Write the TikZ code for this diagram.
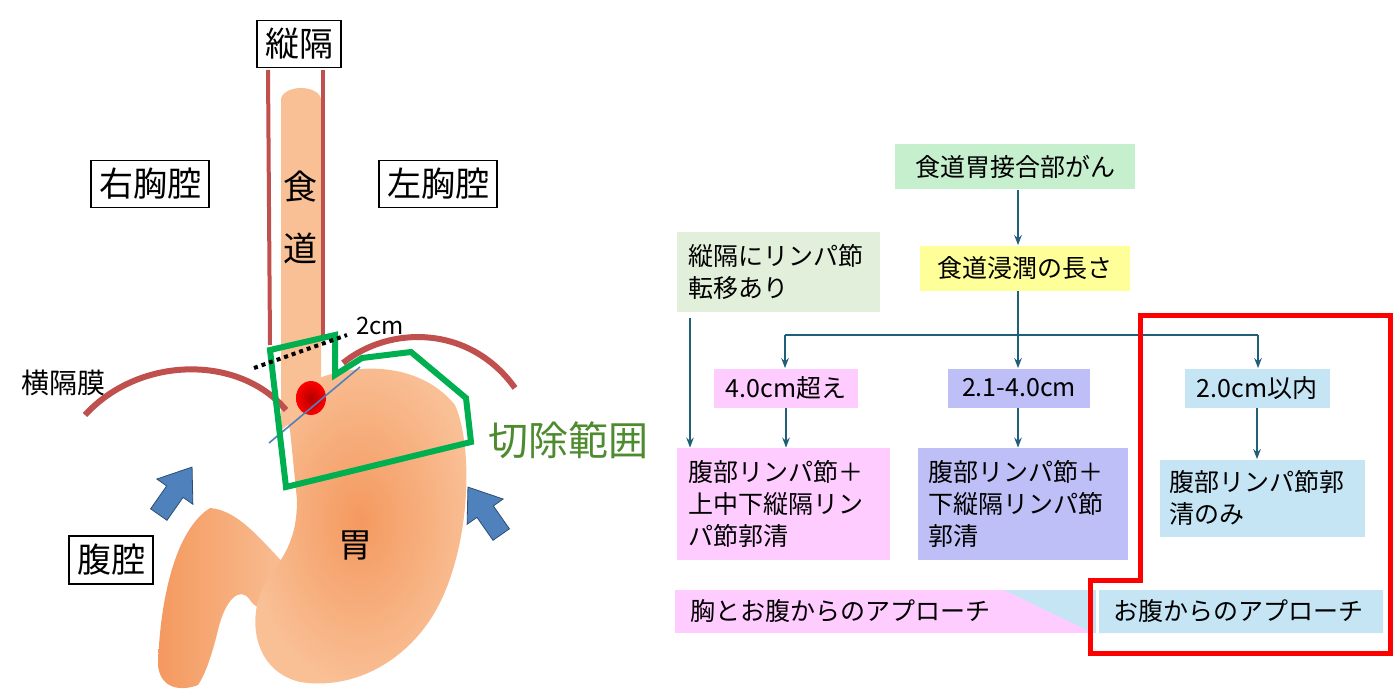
\documentclass[tikz,border=0pt]{standalone}
\usepackage{fontspec}
\setmainfont{Noto Sans CJK JP}
\usetikzlibrary{arrows.meta}
\definecolor{dred}{HTML}{C0504D}
\definecolor{gbox}{HTML}{C6EFCE}
\definecolor{ybox}{HTML}{FFFF99}
\definecolor{lgbox}{HTML}{E2EFDA}
\definecolor{pbox}{HTML}{FFCCFF}
\definecolor{vbox}{HTML}{BFBFF7}
\definecolor{bbox}{HTML}{C5E5F4}
\definecolor{arr}{HTML}{1F5F7A}
\definecolor{grn}{HTML}{00B050}
\definecolor{gtxt}{HTML}{4E8A2E}
\definecolor{org}{HTML}{F9C096}
\definecolor{org2}{HTML}{F4995F}
\definecolor{barrow}{HTML}{4F81BD}
\tikzset{
 lab/.style={draw,thick,fill=white,inner sep=4pt,font=\fontsize{17}{20}\selectfont},
 fb/.style={font=\fontsize{12.5}{16}\selectfont,inner sep=0pt},
 fa/.style={-{Stealth[length=5pt]},arr,thick},
 barr/.style={fill=barrow,draw=barrow!60!black},
}
\begin{document}
\begin{tikzpicture}[x=0.5pt,y=-0.5pt]
\useasboundingbox (0,0) rectangle (1400,695);
% duodenum
\shade[left color=org2,right color=org] (158,665) .. controls (160,600) and (175,530) .. (210,508) .. controls (240,510) and (265,545) .. (295,575) .. controls (275,610) and (260,615) .. (250,600) .. controls (240,585) and (225,600) .. (218,630) .. controls (212,655) and (205,675) .. (198,685) .. controls (180,692) and (160,688) .. cycle;
% stomach
\shade[inner color=org2,outer color=org] (281,400) .. controls (320,365) and (410,350) .. (455,405) .. controls (475,450) and (470,560) .. (430,620) .. controls (400,665) and (350,690) .. (300,682) .. controls (250,670) and (245,610) .. (270,575) .. controls (290,550) and (297,530) .. (297,500) -- (290,430) -- cycle;
\fill[org] (281,430) -- (281,100) arc[start angle=180,end angle=360,x radius=20,y radius=12] -- (321,400) -- cycle;
% mediastinum lines
\draw[dred,line width=2pt] (268,70) -- (270,345);
\draw[dred,line width=2pt] (323,70) -- (323,335);
% diaphragm
\draw[dred,line width=3pt] (85,415) .. controls (140,355) and (240,355) .. (286,410);
\draw[dred,line width=3pt] (343,363) .. controls (390,325) and (470,325) .. (515,388);
% tumor
\shade[inner color=red!70!black,outer color=red] (311,398) ellipse[x radius=15,y radius=17];
\draw[barrow,thick] (269,443) -- (360,367);
\draw[grn,line width=3pt] (270,350) -- (335,335) -- (335,375) -- (362,358) -- (411,352) -- (466,398) -- (471,442) -- (286,487) -- cycle;
\draw[line width=2pt,dotted] (254,368) -- (347,335);
\node[font=\fontsize{12}{14}\selectfont] (cm) at (380,326) {2cm};
% blue arrows
\begin{scope}[shift={(176,490)},rotate=-35]
\path[barr] (-10,30) -- (-10,2) -- (-22,2) -- (0,-28) -- (22,2) -- (10,2) -- (10,30) -- cycle;
\end{scope}
\begin{scope}[shift={(484,510)},rotate=35]
\path[barr] (-10,30) -- (-10,2) -- (-22,2) -- (0,-28) -- (22,2) -- (10,2) -- (10,30) -- cycle;
\end{scope}
% labels
\node[lab] (med) at (299,44) {縦隔};
\node[lab] (rt) at (150,184) {右胸腔};
\node[lab] (lt) at (438,184) {左胸腔};
\node[lab] (abd) at (111,560) {腹腔};
\node[font=\fontsize{14}{16}\selectfont] (dia) at (63,383) {横隔膜};
\node[font=\fontsize{17}{20}\selectfont] (eso1) at (300,187) {食};
\node[font=\fontsize{17}{20}\selectfont] (eso2) at (300,248) {道};
\node[font=\fontsize{17}{20}\selectfont] (st) at (355,545) {胃};
\node[font=\fontsize{20}{24}\selectfont,text=gtxt] (cut) at (568,440) {切除範囲};
% flowchart
\node[fb,fill=gbox,minimum width=240*0.5pt,minimum height=45*0.5pt] (a) at (1015,167) {食道胃接合部がん};
\node[fb,fill=ybox,minimum width=210*0.5pt,minimum height=45*0.5pt] (b) at (1025,268) {食道浸潤の長さ};
\node[fb,fill=lgbox,minimum width=203*0.5pt,minimum height=80*0.5pt,align=left,text width=180*0.5pt] (c) at (778,272) {縦隔にリンパ節\\転移あり};
\node[fb,fill=pbox,minimum width=144*0.5pt,minimum height=39*0.5pt] (p1) at (786,388) {4.0cm超え};
\node[fb,fill=vbox,minimum width=142*0.5pt,minimum height=39*0.5pt] (v1) at (1019,388) {2.1-4.0cm};
\node[fb,fill=bbox,minimum width=145*0.5pt,minimum height=39*0.5pt] (b1) at (1257,388) {2.0cm以内};
\node[fb,fill=pbox,minimum width=213*0.5pt,minimum height=112*0.5pt,align=left,text width=190*0.5pt] (p2) at (783,504) {腹部リンパ節＋\\上中下縦隔リン\\パ節郭清};
\node[fb,fill=vbox,minimum width=210*0.5pt,minimum height=112*0.5pt,align=left,text width=190*0.5pt] (v2) at (1023,504) {腹部リンパ節＋\\下縦隔リンパ節\\郭清};
\node[fb,fill=bbox,minimum width=205*0.5pt,minimum height=77*0.5pt,align=left,text width=185*0.5pt] (b2) at (1262,498) {腹部リンパ節郭\\清のみ};
\coordinate (j) at (1018,335);
\coordinate (jl) at (785,335);
\coordinate (jr) at (1258,335);
\draw[fa] (a.south -| 1018,0) -- (b.north -| 1018,0);
\draw[arr,thick] (b.south -| j) -- (j);
\draw[fa] (j) -- (v1.north -| j);
\draw[arr,thick] (jl) -- (jr);
\draw[fa] (jl) -- (p1.north -| jl);
\draw[fa] (jr) -- (b1.north -| jr);
\draw[fa] (c.south -| 690,0) ++(0,6) -- (p2.north -| 690,0);
\draw[fa] (p1) -- (p2.north -| p1);
\draw[fa] (v1.south -| 1018,0) -- (v2.north -| 1018,0);
\draw[fa] (b1) -- (b2.north -| b1);
% bottom bar
\fill[pbox] (675,590) rectangle (1093,633);
\fill[bbox] (1004,590) -- (1383,590) -- (1383,633) -- (1093,633) -- cycle;
\draw[white,line width=1.5pt] (1097,590) -- (1097,633);
\node[fb,anchor=west] (t1) at (690,611) {胸とお腹からのアプローチ};
\node[fb,anchor=west] (t2) at (1113,611) {お腹からのアプローチ};
\draw[red,line width=2.5pt] (1140,315) -- (1390,315) -- (1390,653) -- (1090,653) -- (1090,580) -- (1140,580) -- cycle;
\end{tikzpicture}
\end{document}
